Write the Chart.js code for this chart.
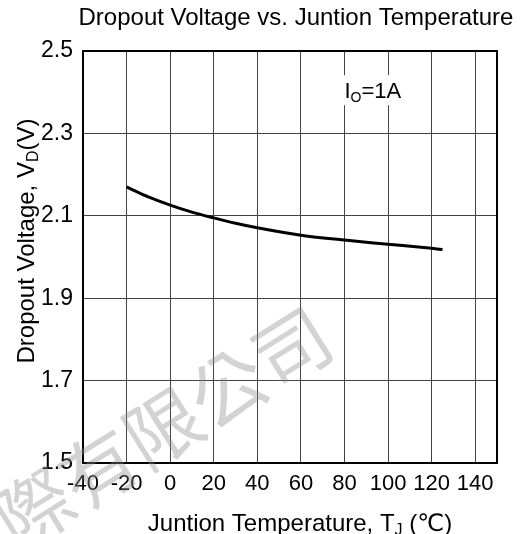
<!DOCTYPE html>
<html>
<head>
<meta charset="utf-8">
<script src="https://cdn.jsdelivr.net/npm/chart.js@4/dist/chart.umd.min.js"></script>
<style>
  html, body { margin: 0; padding: 0; background: #fff; }
  #c { display: block; }
</style>
</head>
<body>
<canvas id="c" width="523" height="534"></canvas>
<script>
// ---- data ----
const temperatures = [-20, -10, 0, 10, 20, 30, 40, 60, 80, 100, 120, 125];
const dropoutVoltage = [2.170, 2.146, 2.126, 2.109, 2.095, 2.082, 2.071, 2.053, 2.041, 2.031, 2.021, 2.018];
const xTicks = [-40, -20, 0, 20, 40, 60, 80, 100, 120, 140];
const yTicks = [1.5, 1.7, 1.9, 2.1, 2.3, 2.5];
const chartTitle = 'Dropout Voltage vs. Juntion Temperature';
const xTitle = [{ t: 'Juntion Temperature, T' }, { t: 'J', sub: true }, { t: ' (℃)' }];
const yTitle = [{ t: 'Dropout Voltage, V' }, { t: 'D', sub: true }, { t: '(V)' }];
const noteLabel = [{ t: 'I' }, { t: 'O', sub: true }, { t: '=1A' }];
const watermark = '際有限公司';

const FONT = "'Liberation Sans', Arial, 'DejaVu Sans', 'Noto Sans CJK SC', sans-serif";

function richWidth(ctx, parts, size) {
  let w = 0;
  parts.forEach(p => {
    ctx.font = (p.sub ? Math.round(size * 0.65) : size) + 'px ' + FONT;
    w += ctx.measureText(p.t).width;
  });
  return w;
}
function drawRich(ctx, parts, x, y, size) {
  const w = richWidth(ctx, parts, size);
  let cx = x - w / 2;
  ctx.textAlign = 'left';
  ctx.textBaseline = 'alphabetic';
  const base = y + size * 0.36;
  parts.forEach(p => {
    const s = p.sub ? Math.round(size * 0.65) : size;
    ctx.font = s + 'px ' + FONT;
    ctx.fillText(p.t, cx, p.sub ? base + size * 0.2 : base);
    cx += ctx.measureText(p.t).width;
  });
  return w;
}

const decorPlugin = {
  id: 'decor',
  beforeDatasetsDraw(chart) {
    const { ctx, chartArea: a } = chart;
    ctx.save();
    const xs = chart.scales.x, ys = chart.scales.y;
    const nx = xs.getPixelForValue(93), ny = ys.getPixelForValue(2.405);
    const w = richWidth(ctx, noteLabel, 22);
    ctx.fillStyle = '#fff';
    ctx.fillRect(nx - w / 2 - 4, ny - 15, w + 8, 30);
    ctx.fillStyle = '#000';
    drawRich(ctx, noteLabel, nx, ny, 22);
    ctx.strokeStyle = '#000';
    ctx.lineWidth = 2;
    ctx.strokeRect(a.left, a.top, a.right - a.left, a.bottom - a.top);
    ctx.restore();
  },
  afterDraw(chart) {
    const { ctx } = chart;
    ctx.save();
    ctx.fillStyle = '#000';
    ctx.font = '24px ' + FONT;
    ctx.textAlign = 'center';
    ctx.textBaseline = 'middle';
    ctx.fillText(chartTitle, 296, 18);
    drawRich(ctx, xTitle, 300, 522, 24);
    ctx.translate(25, 241);
    ctx.rotate(-Math.PI / 2);
    drawRich(ctx, yTitle, 0, 0, 24);
    ctx.restore();
    // watermark
    ctx.save();
    ctx.translate(163, 428);
    ctx.rotate(-32 * Math.PI / 180);
    ctx.font = "76px 'Noto Sans CJK TC', 'Noto Sans CJK SC', sans-serif";
    ctx.textAlign = 'center';
    ctx.textBaseline = 'middle';
    ctx.fillStyle = 'rgba(140,140,140,0.38)';
    ctx.fillText(watermark, 0, 0);
    ctx.restore();
  }
};

new Chart(document.getElementById('c'), {
  type: 'line',
  data: {
    datasets: [{
      data: temperatures.map((t, i) => ({ x: t, y: dropoutVoltage[i] })),
      borderColor: '#000',
      borderWidth: 3,
      pointRadius: 0,
      fill: false,
      cubicInterpolationMode: 'monotone'
    }]
  },
  options: {
    responsive: false,
    animation: false,
    devicePixelRatio: 1,
    layout: { padding: { top: 51, right: 26, left: 0, bottom: 0 } },
    plugins: { legend: { display: false }, title: { display: false }, tooltip: { enabled: false } },
    scales: {
      x: {
        type: 'linear',
        min: -40,
        max: 150,
        afterBuildTicks: s => { s.ticks = xTicks.map(v => ({ value: v })); },
        afterFit: s => { s.height = 71; },
        grid: { color: '#444', lineWidth: 1, drawTicks: false },
        border: { display: false },
        ticks: {
          autoSkip: false, maxRotation: 0, minRotation: 0,
          color: '#000', padding: 8,
          font: { size: 22, family: FONT },
          callback: v => String(v)
        }
      },
      y: {
        min: 1.5,
        max: 2.5,
        afterBuildTicks: s => { s.ticks = yTicks.map(v => ({ value: v })); },
        afterFit: s => { s.width = 83; },
        grid: { color: '#444', lineWidth: 1, drawTicks: false },
        border: { display: false },
        ticks: {
          color: '#000', padding: 10,
          font: { size: 23, family: FONT },
          callback: v => Number(v).toFixed(1)
        }
      }
    }
  },
  plugins: [decorPlugin]
});
</script>
</body>
</html>
